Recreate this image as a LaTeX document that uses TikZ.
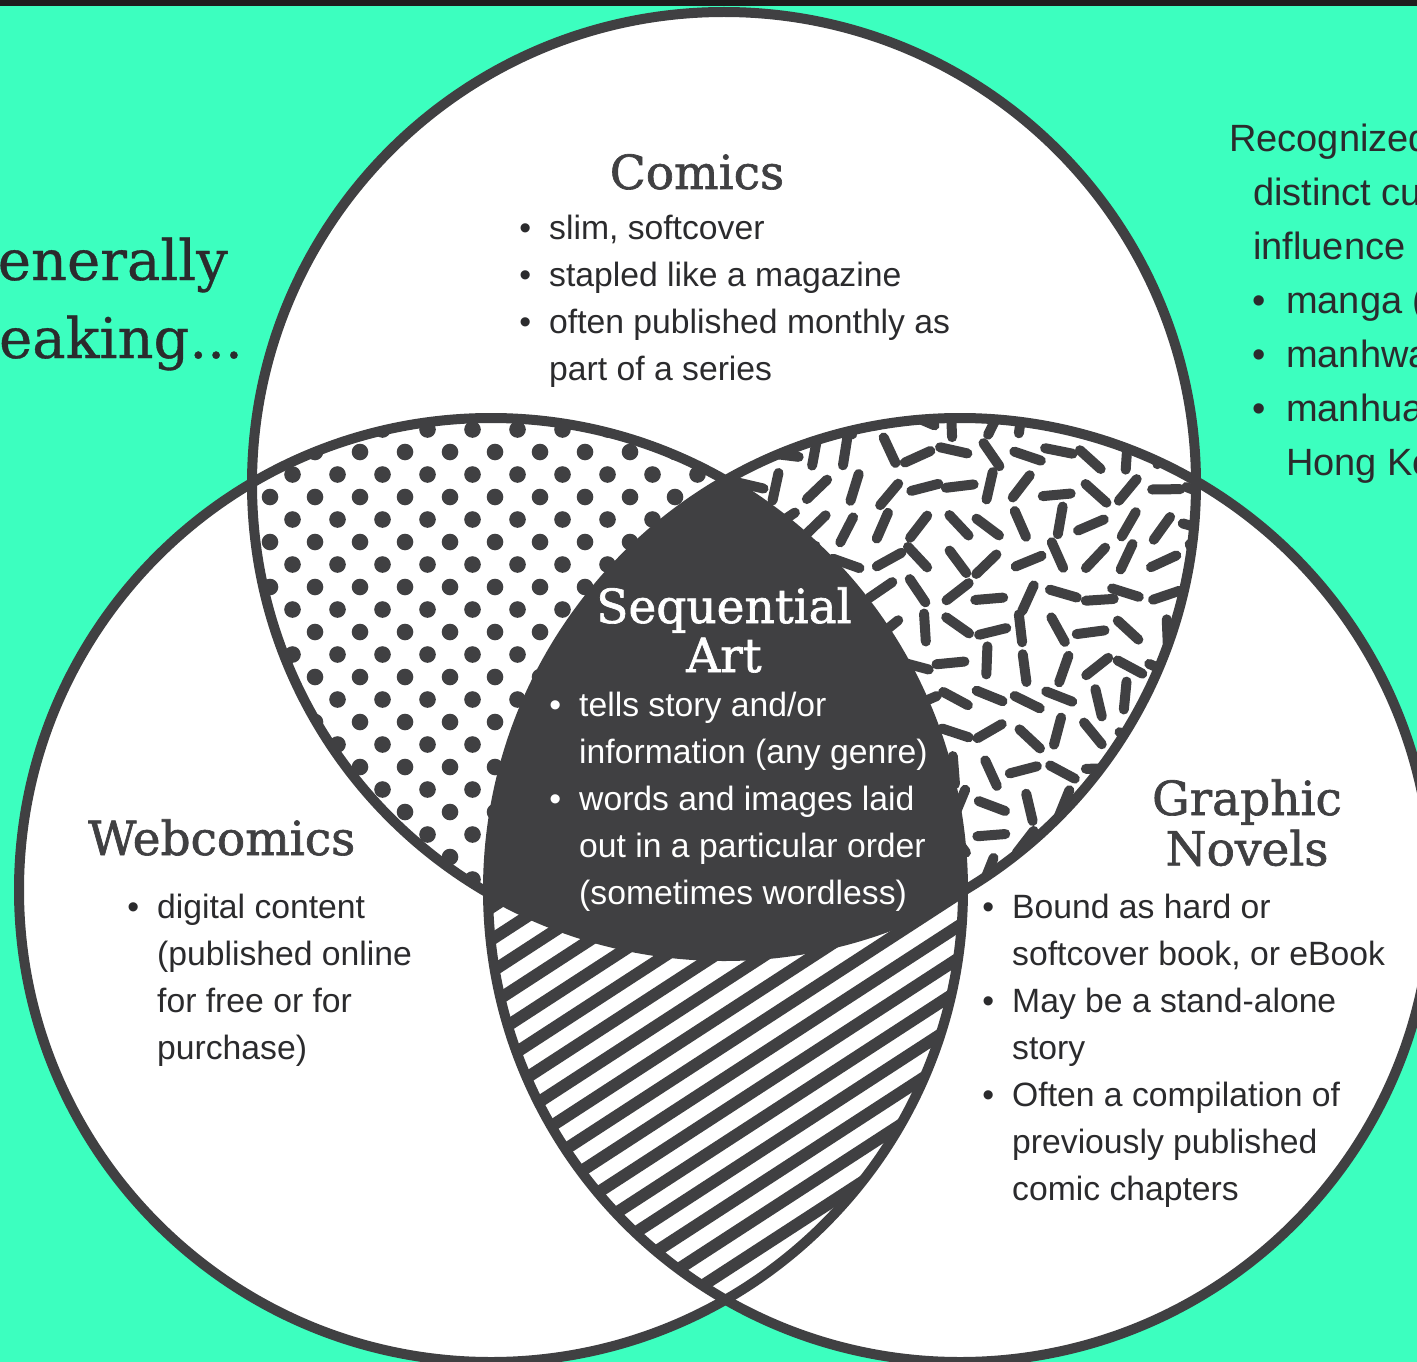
\documentclass[tikz,border=0pt]{standalone}
\usepackage{fontspec}
\setmainfont{Liberation Sans}
\newfontfamily\headfont[FakeBold=1.4]{DejaVu Serif}
\newfontfamily\leadfont[FakeBold=0.6]{DejaVu Serif}

\definecolor{mint}{HTML}{3CFFBF}
\definecolor{ink}{HTML}{404042}
\definecolor{txt}{HTML}{2B2B2D}
\definecolor{topbar}{HTML}{1E1E1E}

\newcommand{\itm}[1][18pt]{\makebox[0pt][r]{\textbullet\hspace{#1}}}
\newcommand{\textlines}[2]{\begin{tabular}[t]{@{}#1@{}}#2\end{tabular}}

\begin{document}
\begin{tikzpicture}[x=1pt, y=-1pt,
        ring/.style={draw=ink, line width=10pt},
        heading/.style={font=\headfont\fontsize{47}{49}\selectfont, text=ink, inner sep=0pt},
        body/.style={font=\fontsize{33.7}{47}\selectfont, text=txt, inner sep=0pt, anchor=base west},
        dot/.style={fill=ink},
        bit/.style={draw=ink, line width=10pt, line cap=round},
        stripe/.style={draw=ink, line width=12pt}
        ]
        \useasboundingbox (0,0) rectangle (1417,1362);
        \clip (0,0) rectangle (1417,1362);
        \fill[mint] (0,0) rectangle (1417,1362);
        \fill[topbar] (0,0) rectangle (1417,6);

        \coordinate (comics) at (724,484);
        \coordinate (web) at (491,890);
        \coordinate (novels) at (960,890);
        \def\rad{472}

        \fill[white] (comics) circle (\rad);
        \fill[white] (web) circle (\rad);
        \fill[white] (novels) circle (\rad);

        % comics and webcomics: dots
        \begin{scope}
            \clip (comics) circle (\rad);
            \clip (web) circle (\rad);
            \foreach \j in {0,...,24} {
                \foreach \i in {-3,...,8} {
                    \pgfmathsetmacro{\dx}{382.5+22.5*mod(\j,2)+45*\i}
                    \fill[dot] (\dx, 429.5+22.5*\j) circle (8.3);
                }
            }
        \end{scope}

        % comics and graphic novels: random bits
        \pgfmathsetseed{12}
        \begin{scope}
            \clip (comics) circle (\rad);
            \clip (novels) circle (\rad);
            \foreach \i in {0,...,13} {
                \foreach \j in {0,...,14} {
                    \pgfmathsetmacro{\px}{745+35*\i+rand*5}
                    \pgfmathsetmacro{\py}{420+35*\j+rand*5}
                    \pgfmathsetmacro{\ang}{rnd*180}
                    \draw[bit] ([shift={(\ang:-14)}]\px,\py) -- ++(\ang:28);
                }
            }
        \end{scope}

        % webcomics and graphic novels: stripes
        \begin{scope}
            \clip (web) circle (\rad);
            \clip (novels) circle (\rad);
            \foreach \k in {-18,...,18} {
                \pgfmathsetmacro{\cx}{725+\k*27*0.545}
                \pgfmathsetmacro{\cy}{1110+\k*27*0.839}
                \draw[stripe] (\cx-420*0.839, \cy+420*0.545) -- (\cx+420*0.839, \cy-420*0.545);
            }
        \end{scope}

        % all three
        \begin{scope}
            \clip (comics) circle (\rad);
            \clip (web) circle (\rad);
            \fill[ink] (novels) circle (\rad);
        \end{scope}

        \draw[ring] (comics) circle (\rad);
        \draw[ring] (web) circle (\rad);
        \draw[ring] (novels) circle (\rad);

        \node[heading, text=txt, font=\leadfont\fontsize{56}{60}\selectfont, anchor=base east] (gen1) at (228,280) {Generally};
        \node[heading, text=txt, font=\leadfont\fontsize{56}{60}\selectfont, anchor=base east] (gen2) at (243,358) {speaking...};

        \node[body, font=\fontsize{38}{54}\selectfont] (recog) at (1229,152) {\textlines{l}{Recognized\\
            \hspace*{24pt}distinct cultural\\
            \hspace*{24pt}influence\\
            \hspace*{57pt}\itm[20pt]manga (\\
            \hspace*{57pt}\itm[20pt]manhwa\\
            \hspace*{57pt}\itm[20pt]manhua\\
            \hspace*{57pt}Hong Kong}};

        \node[heading, anchor=base] (comicshead) at (697,189) {Comics};
        \node[body] (comicslist) at (549,240) {\textlines{l}{\itm slim, softcover\\
            \itm stapled like a magazine\\
            \itm often published monthly as\\
            part of a series}};

        \node[heading, text=white, anchor=base] (seqhead) at (724,623) {\textlines{c}{Sequential\\Art}};
        \node[body, text=white] (seqlist) at (579,716) {\textlines{l}{\itm tells story and/or\\
            information (any genre)\\
            \itm words and images laid\\
            out in a particular order\\
            (sometimes wordless)}};

        \node[heading, anchor=base west] (webhead) at (88,855) {Webcomics};
        \node[body] (weblist) at (157,918) {\textlines{l}{\itm digital content\\
            (published online\\
            for free or for\\
            purchase)}};

        \node[heading, anchor=base] (novelshead) at (1247,815) {\textlines{c}{Graphic\\Novels}};
        \node[body] (novelslist) at (1012,918) {\textlines{l}{\itm Bound as hard or\\
            softcover book, or eBook\\
            \itm May be a stand-alone\\
            story\\
            \itm Often a compilation of\\
            previously published\\
            comic chapters}};
    \end{tikzpicture}
\end{document}
